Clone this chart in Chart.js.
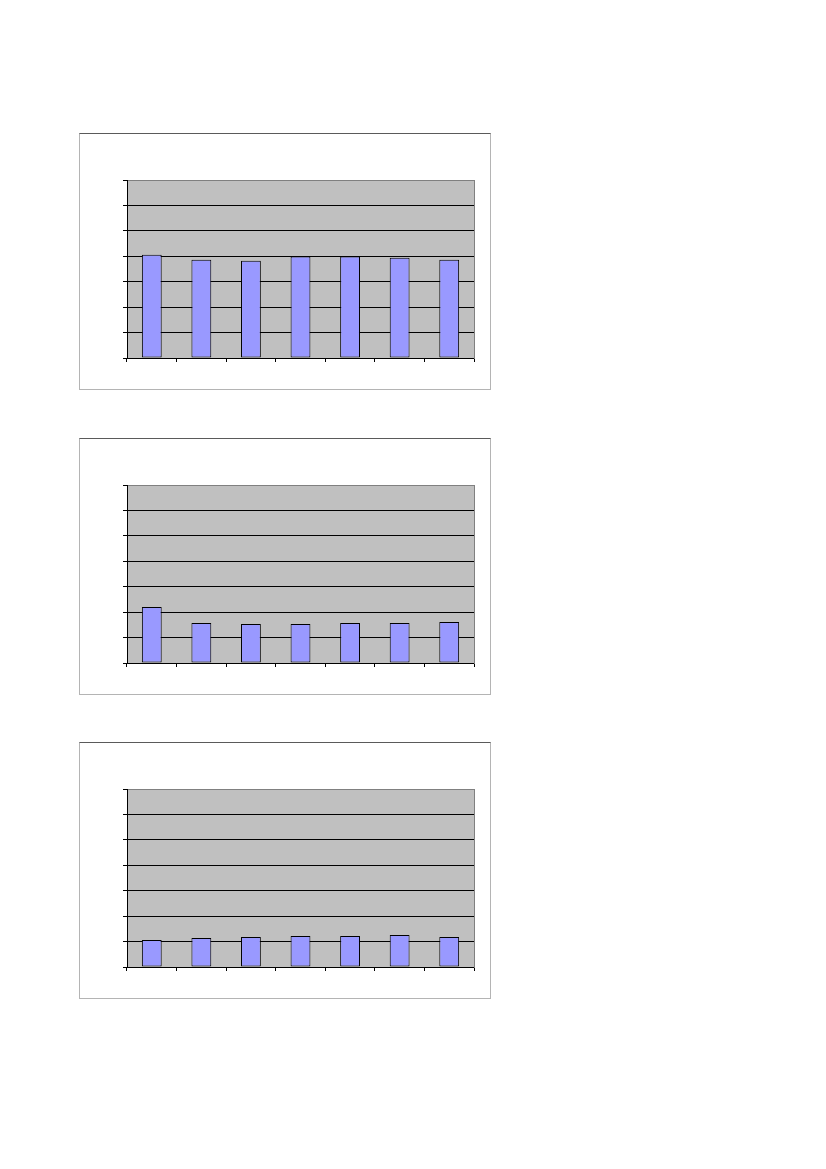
<!DOCTYPE html>
<html>
<head>
<meta charset="utf-8">
<script src="https://cdn.jsdelivr.net/npm/chart.js@4/dist/chart.umd.min.js"></script>
<style>
  html, body { margin: 0; padding: 0; background: #fff; }
  body { width: 826px; height: 1169px; position: relative; overflow: hidden; font-family: "Liberation Sans", Arial, sans-serif; }
  .box { position: absolute; left: 79px; width: 412px; height: 257px; box-sizing: border-box;
         border: 1px solid #b4b4b4; border-top-color: #5a5a5a; }
  .box canvas { position: absolute; left: 0; top: 0; }
</style>
</head>
<body>
<div class="box" style="top:133px"><canvas id="c1" width="410" height="255"></canvas></div>
<div class="box" style="top:438px"><canvas id="c2" width="410" height="255"></canvas></div>
<div class="box" style="top:742px"><canvas id="c3" width="410" height="255"></canvas></div>
<script>
// ---- data ----
const categories = ['1', '2', '3', '4', '5', '6', '7'];
const chart1Values = [4.06, 3.86, 3.82, 3.99, 3.99, 3.94, 3.86];
const chart2Values = [2.20, 1.57, 1.53, 1.53, 1.57, 1.57, 1.61];
const chart3Values = [1.06, 1.14, 1.18, 1.22, 1.22, 1.26, 1.18];
const yTicks = [0, 1, 2, 3, 4, 5, 6, 7];

const plotBg = {
  id: 'plotBg',
  beforeDraw(chart) {
    const a = chart.chartArea, ctx = chart.ctx;
    ctx.save();
    ctx.fillStyle = '#C0C0C0';
    ctx.fillRect(a.left, a.top, a.right - a.left, a.bottom - a.top);
    ctx.restore();
  }
};

function makeChart(id, values) {
  const yMax = yTicks[yTicks.length - 1];
  new Chart(document.getElementById(id), {
    type: 'bar',
    data: {
      labels: categories,
      datasets: [{
        data: values,
        backgroundColor: '#9999FF',
        borderColor: '#000000',
        borderWidth: 1,
        borderSkipped: false,
        categoryPercentage: 1.0,
        barPercentage: 0.4
      }]
    },
    options: {
      responsive: false,
      animation: false,
      devicePixelRatio: 1,
      layout: { padding: { left: 43, right: 16, top: 46, bottom: 27 } },
      plugins: { legend: { display: false }, tooltip: { enabled: false }, title: { display: false } },
      scales: {
        x: {
          offset: true,
          ticks: { display: false },
          grid: { display: true, offset: true, drawOnChartArea: false, drawTicks: true, tickLength: 4, tickColor: '#000', color: '#000', lineWidth: 1 },
          border: { display: true, color: '#000', width: 1 },
          afterFit: s => { s.height = 4; }
        },
        y: {
          min: yTicks[0],
          max: yMax,
          afterBuildTicks: s => { s.ticks = yTicks.map(v => ({ value: v })); },
          ticks: { display: false, stepSize: 1 },
          grid: {
            drawTicks: true, tickLength: 4, tickColor: '#000', lineWidth: 1,
            color: c => (c.tick && c.tick.value === yMax) ? '#808080' : '#000'
          },
          border: { display: true, color: '#000', width: 1 },
          afterFit: s => { s.width = 4; }
        },
        y2: {
          position: 'right',
          display: true,
          min: 0, max: 1,
          ticks: { display: false },
          grid: { drawOnChartArea: false, drawTicks: false },
          border: { display: true, color: '#808080', width: 1 },
          afterFit: s => { s.width = 0; }
        }
      }
    },
    plugins: [plotBg]
  });
}

makeChart('c1', chart1Values);
makeChart('c2', chart2Values);
makeChart('c3', chart3Values);
</script>
</body>
</html>
